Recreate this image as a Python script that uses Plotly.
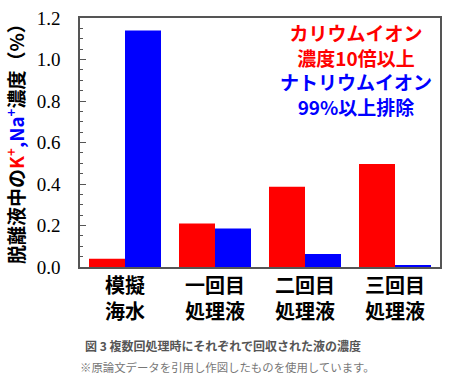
import plotly.graph_objects as go

categories = ["<b>模擬<br>海水</b>", "<b>一回目<br>処理液</b>", "<b>二回目<br>処理液</b>", "<b>三回目<br>処理液</b>"]
k_values = [0.04, 0.21, 0.387, 0.497]
na_values = [1.14, 0.186, 0.063, 0.006]
y_ticks = [0.0, 0.2, 0.4, 0.6, 0.8, 1.0, 1.2]
y_ticklabels = ["0.0", "0.2", "0.4", "0.6", "0.8", "1.0", "1.2"]
y_title = ("<b>脱離液中の<span style='color:#ff0000'>K<sup>+</sup></span>"
           "<span style='color:#0000ff'>,Na<sup>+</sup></span>濃度（%）</b>")

CJK = "Noto Sans CJK JP"
SERIF = "Liberation Serif, Times New Roman, serif"

fig = go.Figure()
fig.add_trace(go.Bar(x=categories, y=k_values, marker=dict(color="#ff0000", line=dict(width=0)), name="K+"))
fig.add_trace(go.Bar(x=categories, y=na_values, marker=dict(color="#0000ff", line=dict(width=0)), name="Na+"))

fig.update_layout(
    width=450, height=379,
    margin=dict(l=80, r=8, t=13, b=112),
    paper_bgcolor="white", plot_bgcolor="white",
    barmode="group", bargap=0.2, bargroupgap=0,
    showlegend=False,
    xaxis=dict(
        showline=True, linecolor="#555555", linewidth=1.5, mirror=True,
        ticks="", tickfont=dict(family=CJK, size=20, color="black"),
        showgrid=False,
    ),
    yaxis=dict(
        range=[0, 1.2001], tickvals=y_ticks,
        ticktext=[f"<span style='font-family:Liberation Serif, serif'>{t}</span>" for t in y_ticklabels],
        showline=True, linecolor="#555555", linewidth=1.5, mirror=True,
        ticks="inside", ticklen=6, tickcolor="#555555", tickwidth=1,
        minor=dict(dtick=0.05, ticks="inside", ticklen=3, tickcolor="#555555"),
        tickfont=dict(family=SERIF, size=19, color="black"),
        ticklabelstandoff=14,
        showgrid=False, zeroline=False,
    ),
)

fig.add_annotation(
    xref="paper", yref="paper", x=(14 - 80) / 362, y=(267 - 136) / 254,
    xanchor="center", yanchor="middle", textangle=-90,
    text=y_title, showarrow=False,
    font=dict(family=CJK, size=19, color="black"),
)

fig.add_annotation(
    xref="paper", yref="paper", x=0.767, y=1 - (66 - 13) / 254,
    xanchor="center", yanchor="middle",
    text="<b><span style='color:#ff0000'>カリウムイオン<br>濃度10倍以上</span><br>"
         "<span style='color:#0000ff'>ナトリウムイオン<br>99%以上排除</span></b>",
    showarrow=False, align="center",
    font=dict(family=CJK, size=19),
)

fig.add_annotation(
    xref="paper", yref="paper", x=0.5, y=-(347 - 267) / 254, xanchor="center", yanchor="middle",
    xshift=-37,
    text="<b>図 3 複数回処理時にそれぞれで回収された液の濃度</b>",
    showarrow=False, font=dict(family=CJK, size=12, color="#555555"),
)
fig.add_annotation(
    xref="paper", yref="paper", x=0.5, y=-(369 - 267) / 254, xanchor="center", yanchor="middle",
    xshift=-33,
    text="※原論文データを引用し作図したものを使用しています。",
    showarrow=False, font=dict(family=CJK, size=11.4, color="#777777"),
)

fig.write_html(
    "out.html",
    config={"displayModeBar": False},
    post_script="document.body.style.margin='0';document.body.style.padding='0';",
)
